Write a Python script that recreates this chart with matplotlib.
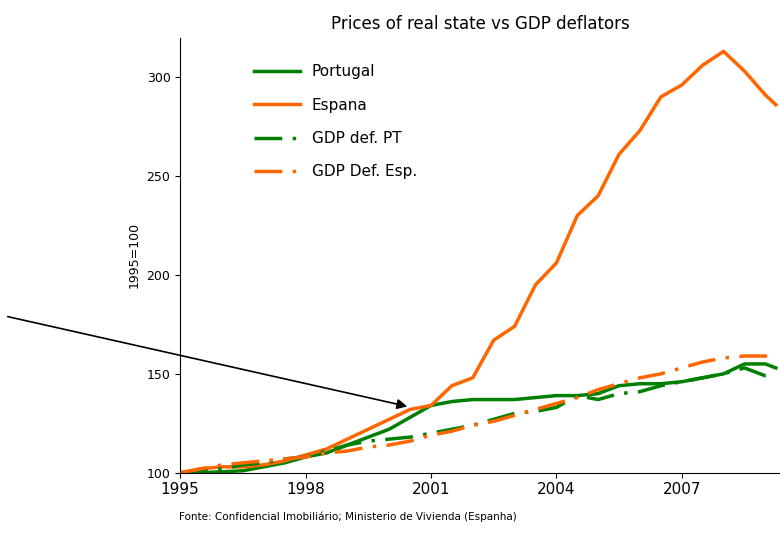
import numpy as np
import matplotlib.pyplot as plt

t = np.append(np.arange(1995, 2009.01, 0.5), 2009.25)
espana = [100, 102, 103, 103, 104, 106, 109, 112, 117, 122, 127, 132, 134, 144, 148, 167,
          174, 195, 206, 230, 240, 261, 273, 290, 296, 306, 313, 303, 291, 286]
portugal = [100, 100, 100.5, 101, 103, 105, 108, 110, 114, 118, 122, 128, 134, 136, 137, 137,
            137, 138, 139, 139, 140, 144, 145, 145, 146, 148, 150, 155, 155, 153]
gdp_pt = [100, 101, 102, 104, 105, 107, 108, 111, 114, 116, 117, 118, 120, 122, 124, 127,
          130, 131, 133, 139, 137, 140, 141, 144, 146, 148, 150, 153, 149, 149]
gdp_es = [100, 102, 104, 105, 106, 107, 108, 110, 111, 113, 114, 116, 119, 121, 124, 126,
          129, 132, 135, 138, 142, 145, 148, 150, 153, 156, 158, 159, 159, 157]

green = '#008000'
orange = '#ff6600'

fig = plt.figure(figsize=(7.8, 5.36), dpi=100)
ax = fig.add_axes([0.231, 0.118, 0.769, 0.812])
ax.plot(t, portugal, color=green, lw=2.5, label='Portugal')
ax.plot(t, espana, color=orange, lw=2.5, label='Espana')
ax.plot(t, gdp_pt, color=green, lw=2.5, ls=(0, (8, 3, 1, 3)), label='GDP def. PT')
ax.plot(t, gdp_es, color=orange, lw=2.5, ls=(0, (8, 3, 1, 3)), label='GDP Def. Esp.')

ax.set_xlim(1995, 2009.35)
ax.set_ylim(100, 320)
ax.set_xticks([1995, 1998, 2001, 2004, 2007])
ax.set_yticks([100, 150, 200, 250, 300])
ax.tick_params(axis='x', labelsize=11)
ax.tick_params(axis='y', labelsize=9)
for s in ['top', 'right']:
    ax.spines[s].set_visible(False)
ax.set_ylabel('1995=100', fontsize=9)
ax.set_title('Prices of real state vs GDP deflators', fontsize=12)
ax.legend(loc='upper left', bbox_to_anchor=(0.1, 0.97), frameon=False, fontsize=11,
          handlelength=3, labelspacing=1.2)

fig.text(0.23, 0.03, 'Fonte: Confidencial Imobiliário; Ministerio de Vivienda (Espanha)', fontsize=7.5)
ax.annotate('', xy=(410 / 780, 1 - 407 / 536), xycoords='figure fraction',
            xytext=(5 / 780, 1 - 316 / 536), textcoords='figure fraction',
            arrowprops=dict(arrowstyle='-|>', color='black', lw=1.2, mutation_scale=15))

fig.savefig('out.png')
